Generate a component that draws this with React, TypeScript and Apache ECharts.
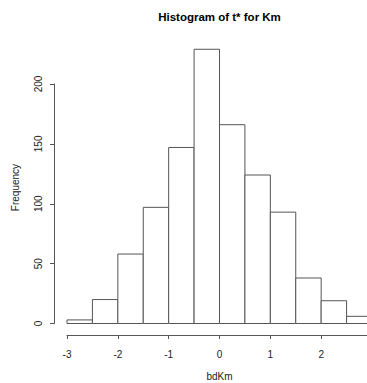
import React, { useEffect, useRef } from "react";
import * as echarts from "echarts";

const binStarts = [-3, -2.5, -2, -1.5, -1, -0.5, 0, 0.5, 1, 1.5, 2, 2.5];
const binEnds = [-2.5, -2, -1.5, -1, -0.5, 0, 0.5, 1, 1.5, 2, 2.5, 3];
const counts = [3, 20, 58, 97, 147, 229, 166, 124, 93, 38, 19, 6];
const xTickMin = -3;
const xTickMax = 3;
const yTickMin = 0;
const yTickMax = 200;
const titleText = "Histogram of t* for Km";
const xTitle = "bdKm";
const yTitle = "Frequency";

const FONT = "'Liberation Sans', Arial, Helvetica, sans-serif";
const LINE = "#555";

export default function App() {
  const ref = useRef<HTMLDivElement>(null);
  useEffect(() => {
    if (!ref.current) return;
    const chart = echarts.init(ref.current, null, { renderer: "svg" });
    const data = binStarts.map((s, i) => [s, binEnds[i], counts[i]]);
    chart.setOption({
      animation: false,
      backgroundColor: "#fff",
      grid: { left: 67, top: 84, width: 305, height: 239.5, containLabel: false, outerBoundsMode: "none" },
      xAxis: {
        type: "value",
        min: xTickMin,
        max: xTickMax,
        interval: 1,
        offset: 11.5,
        axisLine: { show: true, onZero: false, lineStyle: { color: LINE, width: 1 } },
        axisTick: { show: true, length: 4, lineStyle: { color: LINE, width: 1 } },
        axisLabel: { fontSize: 10, color: "#222", margin: 14, fontFamily: FONT, showMaxLabel: false },
        splitLine: { show: false },
      },
      yAxis: {
        type: "value",
        min: yTickMin,
        max: yTickMax,
        interval: 50,
        offset: 13,
        axisLine: { show: true, onZero: false, lineStyle: { color: LINE, width: 1 } },
        axisTick: { show: true, length: 4, lineStyle: { color: LINE, width: 1 } },
        axisLabel: { fontSize: 10, color: "#222", margin: 11, rotate: 90, fontFamily: FONT },
        splitLine: { show: false },
      },
      graphic: [
        {
          type: "text",
          x: 219.5,
          y: 17,
          style: {
            text: titleText,
            fill: "#000",
            font: `bold 11.5px ${FONT}`,
            textAlign: "center",
            textVerticalAlign: "middle",
          },
        },
        {
          type: "text",
          x: 219.5,
          y: 376,
          style: {
            text: xTitle,
            fill: "#222",
            font: `10px ${FONT}`,
            textAlign: "center",
            textVerticalAlign: "middle",
          },
        },
        {
          type: "text",
          x: 15.5,
          y: 187.5,
          rotation: Math.PI / 2,
          style: {
            text: yTitle,
            fill: "#222",
            font: `10px ${FONT}`,
            textAlign: "center",
            textVerticalAlign: "middle",
          },
        },
      ],
      series: [
        {
          type: "custom",
          clip: false,
          encode: { x: [0, 1], y: 2 },
          data,
          renderItem: (params: any, api: any) => {
            const x0 = api.value(0);
            const x1 = api.value(1);
            const v = api.value(2);
            const pTop = api.coord([x0, v]);
            const pBot = api.coord([x1, 0]);
            return {
              type: "rect",
              shape: {
                x: pTop[0],
                y: pTop[1],
                width: pBot[0] - pTop[0],
                height: pBot[1] - pTop[1],
              },
              style: { fill: "#fff", stroke: LINE, lineWidth: 1 },
            };
          },
        },
      ],
    });
    return () => chart.dispose();
  }, []);
  return (
    <div
      ref={ref}
      style={{ position: "fixed", left: 0, top: 0, width: 367, height: 383, background: "#fff" }}
    />
  );
}
